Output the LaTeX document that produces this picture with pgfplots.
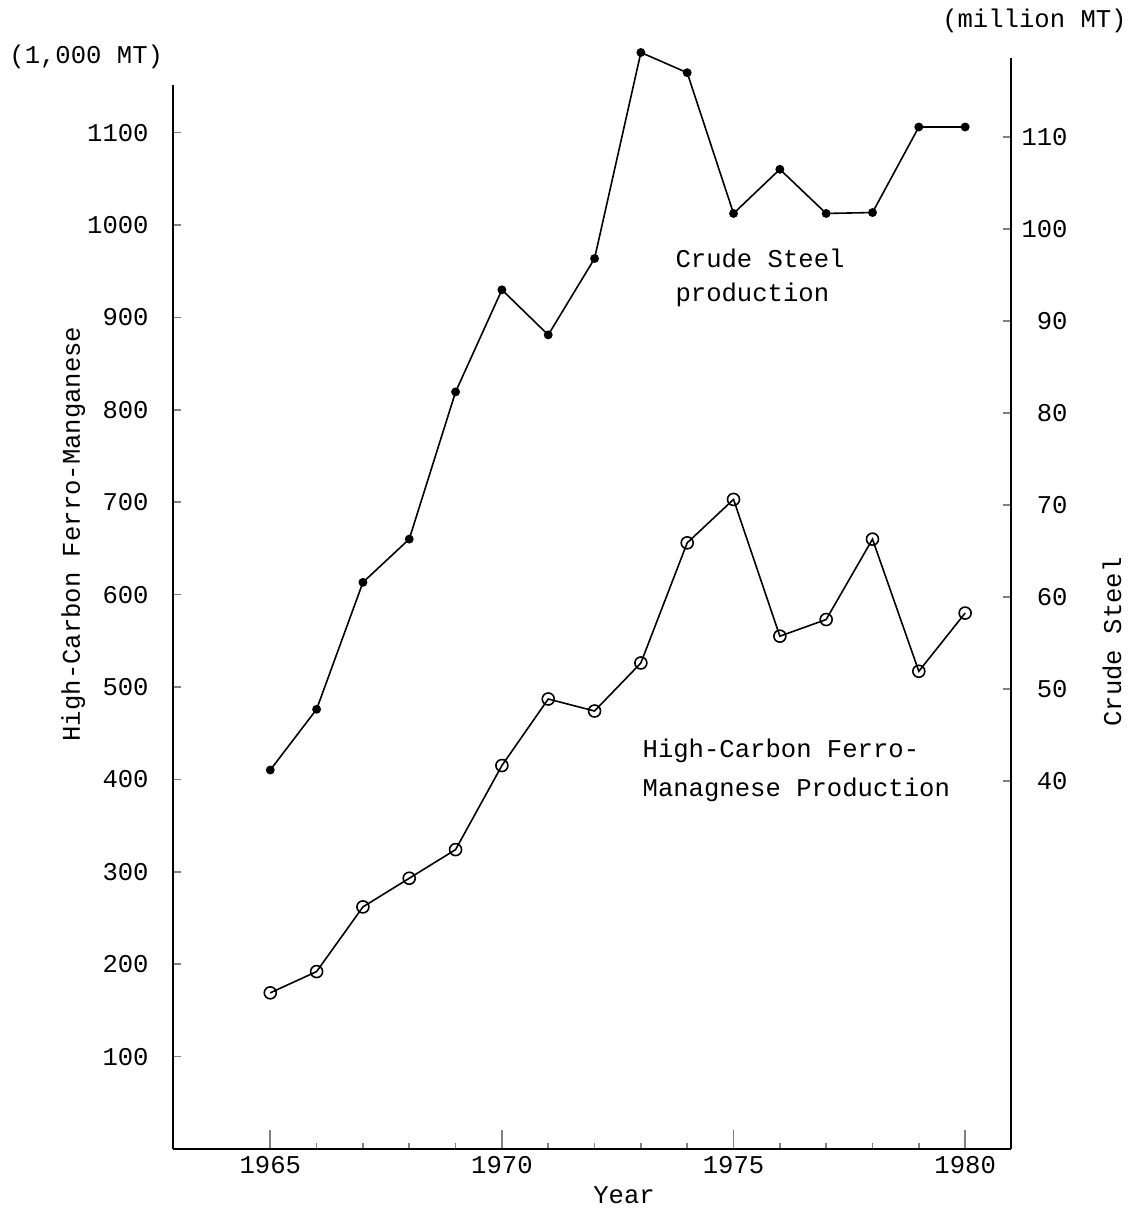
\documentclass[border=0pt]{standalone}
\usepackage{fontspec}
\setmainfont{Liberation Mono}
\usepackage{pgfplots}
\pgfplotsset{compat=1.18}
\begin{document}
\fontsize{12.8}{15}\selectfont
\begin{tikzpicture}[font=\fontsize{12.8}{15}\selectfont]
\path (-86.5pt,-33pt) rectangle (480pt,574.5pt);
\begin{axis}[
  at={(0pt,0pt)}, anchor=south west,
  scale only axis, width=419pt, height=532pt,
  xmin=1962.9, xmax=1980.99, ymin=0, ymax=1151.5,
  axis x line*=bottom, axis y line*=left,
  axis line style={line width=1.3pt},
  tick align=inside,
  xtick={1965,1970,1975,1980},
  minor xtick={1966,1967,1968,1969,1971,1972,1973,1974,1976,1977,1978,1979},
  ytick={100,200,...,1100},
  major tick length=4pt,
  xtick style={line width=0.8pt, /pgfplots/major tick length=9.5pt, /pgfplots/minor tick length=3pt},
  ytick style={line width=0.8pt},
  tick label style={font=\fontsize{12.8}{15}\selectfont},
  /pgf/number format/assume math mode=true,
  /pgf/number format/1000 sep={},
  xticklabel style={anchor=base, inner sep=0pt, yshift=-12pt},
  yticklabel style={anchor=east, inner sep=0pt, xshift=-12pt},
  clip=false,
]
\addplot[black, line width=0.8pt, mark=o, mark size=3pt,
  mark options={solid, fill=white, line width=0.8pt}] coordinates {
  (1965,169) (1966,192) (1967,262) (1968,293) (1969,324) (1970,415)
  (1971,487) (1972,474) (1973,526) (1974,656) (1975,703) (1976,555)
  (1977,573) (1978,660) (1979,517) (1980,580)};
\node[anchor=base west, inner sep=0pt] at (axis cs:1973.74,953.5) {Crude Steel};
\node[anchor=base west, inner sep=0pt] at (axis cs:1973.74,916.7) {production};
\node[anchor=base west, inner sep=0pt] at (axis cs:1973.03,423.2) {High-Carbon Ferro-};
\node[anchor=base west, inner sep=0pt] at (axis cs:1973.03,382.0) {Managnese Production};
\end{axis}
\begin{axis}[
  at={(0pt,0pt)}, anchor=south west,
  scale only axis, width=419pt, height=545.5pt,
  xmin=1962.9, xmax=1980.99, ymin=0, ymax=118.6,
  axis x line=none, axis y line*=right,
  axis line style={line width=1.3pt},
  tick align=inside,
  ytick={40,50,...,110},
  major tick length=4pt,
  ytick style={line width=0.8pt},
  tick label style={font=\fontsize{12.8}{15}\selectfont},
  /pgf/number format/assume math mode=true,
  yticklabel style={anchor=east, inner sep=0pt, xshift=28.5pt},
  clip=false,
]
\addplot[black, line width=0.8pt, mark=*, mark size=1.8pt] coordinates {
  (1965,41.2) (1966,47.8) (1967,61.6) (1968,66.3) (1969,82.3) (1970,93.4)
  (1971,88.5) (1972,96.8) (1973,119.2) (1974,117.0) (1975,101.7) (1976,106.5)
  (1977,101.7) (1978,101.8) (1979,111.1) (1980,111.1)};
\end{axis}
\node[anchor=base west, inner sep=0pt] at (-82pt,542.5pt) {(1,000 MT)};
\node[anchor=base east, inner sep=0pt] at (477pt,560.5pt) {(million MT)};
\node[anchor=base, rotate=90, inner sep=0pt] at (-46.5pt,307.5pt) {High-Carbon Ferro-Manganese};
\node[anchor=base, rotate=90, inner sep=0pt] at (474pt,253.5pt) {Crude Steel};
\node[anchor=base, inner sep=0pt] at (225.5pt,-27pt) {Year};
\end{tikzpicture}
\end{document}
